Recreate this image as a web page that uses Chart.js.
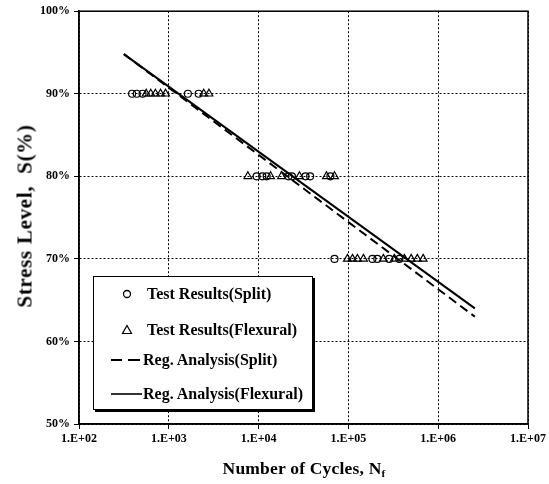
<!DOCTYPE html>
<html>
<head>
<meta charset="utf-8">
<script src="https://cdn.jsdelivr.net/npm/chart.js@4/dist/chart.umd.min.js"></script>
<style>
  html, body { margin:0; padding:0; background:#fff; }
  #wrap { position:relative; width:549px; height:484px; font-family:"Liberation Serif","Times New Roman",serif; }
  #c { position:absolute; left:0; top:0; }
  .ytitle { position:absolute; left:25px; top:216px; transform:translate(-50%,-50%) rotate(-90deg); white-space:pre; font-weight:bold; font-size:21px; letter-spacing:0.7px; color:#000; }
  .xtitle { position:absolute; left:304px; top:468px; transform:translate(-50%,-50%); white-space:pre; font-weight:bold; font-size:17.5px; letter-spacing:0.2px; color:#000; }
  .xtitle sub { font-size:11px; vertical-align:-3px; }
  #legend { position:absolute; left:93px; top:276px; width:218px; height:132px; border:1px solid #000; background:#fff; box-shadow:2px 2px 0 #000; }
  .li { position:absolute; left:0; height:20px; width:218px; }
  .li svg { position:absolute; left:15px; top:0; }
  .li span { position:absolute; top:0; line-height:20px; font-weight:bold; font-size:16px; color:#000; white-space:nowrap; }
</style>
</head>
<body>
<div id="wrap">
  <canvas id="c" width="549" height="484"></canvas>
  <div class="ytitle">Stress Level,  S(%)</div>
  <div class="xtitle">Number of Cycles, N<sub>f</sub></div>
  <div id="legend">
    <div class="li" style="top:7px"><svg width="36" height="20"><circle cx="18" cy="10" r="3.5" fill="none" stroke="#000" stroke-width="1.3"/></svg><span style="left:53px">Test Results(Split)</span></div>
    <div class="li" style="top:43px"><svg width="36" height="20"><polygon points="18,5.5 22.5,13.5 13.5,13.5" fill="none" stroke="#000" stroke-width="1.2"/></svg><span style="left:53px">Test Results(Flexural)</span></div>
    <div class="li" style="top:73px"><svg width="36" height="20"><line x1="2" y1="10" x2="13" y2="10" stroke="#000" stroke-width="2"/><line x1="19" y1="10" x2="31" y2="10" stroke="#000" stroke-width="2"/></svg><span style="left:49px">Reg. Analysis(Split)</span></div>
    <div class="li" style="top:107px"><svg width="36" height="20"><line x1="2" y1="10" x2="33" y2="10" stroke="#000" stroke-width="1.6"/></svg><span style="left:49px">Reg. Analysis(Flexural)</span></div>
  </div>
</div>
<script>
// ---- data ----
const splitN = [390, 440, 510, 1630, 2150,
                9500, 11000, 12300, 21500, 23500, 33300, 37500, 63000,
                70000, 185000, 210000, 285000, 369000];
const splitS = [90, 90, 90, 90, 90,
                80, 80, 80, 80, 80, 80, 80, 80,
                70, 70, 70, 70, 70];
const flexN = [560, 630, 710, 810, 920, 2450, 2800,
               7600, 13600, 18000, 28500, 57000, 70000,
               97500, 111000, 126000, 147000, 245000, 325000, 420000, 500000, 585000, 680000];
const flexS = [90, 90, 90, 90, 90, 90, 90,
               80, 80, 80, 80, 80, 80,
               70, 70, 70, 70, 70, 70, 70, 70, 70, 70];
const regN = [316, 2560000];
const regSplitS = [94.8, 63.0];
const regFlexS = [94.8, 64.0];
const xTickExponents = [2, 3, 4, 5, 6, 7];
const yTicks = [50, 60, 70, 80, 90, 100];

const pts = (xs, ys) => xs.map((x, i) => ({ x: x, y: ys[i] }));
const FONT = { family: '"Liberation Serif","Times New Roman",serif', size: 12, weight: 'bold' };

const framePlugin = {
  id: 'frame',
  afterDraw(chart) {
    const a = chart.chartArea, ctx = chart.ctx;
    ctx.save();
    ctx.strokeStyle = '#000';
    ctx.lineWidth = 1.5;
    ctx.strokeRect(a.left, a.top, a.right - a.left, a.bottom - a.top);
    ctx.restore();
  }
};

new Chart(document.getElementById('c'), {
  type: 'scatter',
  data: {
    datasets: [
      { label: 'Reg. Analysis(Flexural)', data: pts(regN, regFlexS), showLine: true, borderColor: '#000', borderWidth: 2, pointRadius: 0, fill: false, order: 1 },
      { label: 'Reg. Analysis(Split)', data: pts(regN, regSplitS), showLine: true, borderColor: '#000', borderWidth: 2, borderDash: [9, 5], pointRadius: 0, fill: false, order: 2 },
      { label: 'Test Results(Split)', data: pts(splitN, splitS), pointStyle: 'circle', pointRadius: 3.5, borderColor: '#000', backgroundColor: 'rgba(255,255,255,0)', borderWidth: 1.2, order: 3 },
      { label: 'Test Results(Flexural)', data: pts(flexN, flexS), pointStyle: 'triangle', pointRadius: 4.5, borderColor: '#000', backgroundColor: 'rgba(255,255,255,0)', borderWidth: 1.2, order: 4 }
    ]
  },
  options: {
    responsive: false,
    animation: false,
    events: [],
    layout: { padding: { top: 10, right: 21, left: 0, bottom: 0 } },
    plugins: { legend: { display: false }, tooltip: { enabled: false } },
    scales: {
      x: {
        type: 'logarithmic',
        position: 'bottom',
        min: 100, max: 1e7,
        afterBuildTicks: (axis) => { axis.ticks = xTickExponents.map(e => ({ value: Math.pow(10, e) })); },
        afterFit: (s) => { s.height = 60; },
        ticks: {
          color: '#000', font: FONT, padding: 3, maxRotation: 0, autoSkip: false,
          callback: (v) => '1.E+' + String(Math.round(Math.log10(v))).padStart(2, '0')
        },
        grid: { color: '#000', lineWidth: 1, tickLength: 5, drawTicks: true },
        border: { display: true, color: '#000', width: 1.5, dash: [2, 2] }
      },
      y: {
        min: 50, max: 100,
        afterBuildTicks: (axis) => { axis.ticks = yTicks.map(v => ({ value: v })); },
        afterFit: (s) => { s.width = 79; },
        ticks: { color: '#000', font: FONT, padding: 4, callback: (v) => v + '%' },
        grid: { color: '#000', lineWidth: 1, tickLength: 5 },
        border: { display: true, color: '#000', width: 1.5, dash: [2, 2] }
      }
    }
  },
  plugins: [framePlugin]
});
</script>
</body>
</html>
